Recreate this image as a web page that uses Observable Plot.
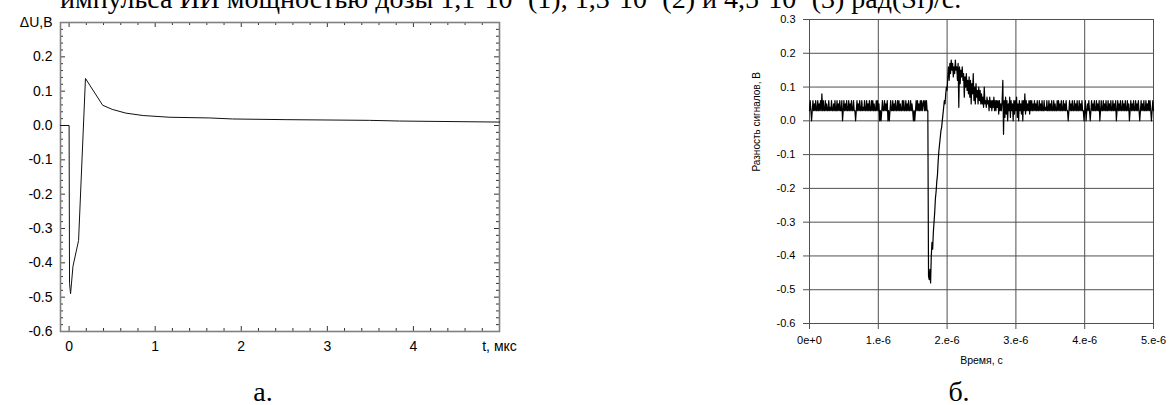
<!DOCTYPE html>
<html lang="ru">
<head>
<meta charset="utf-8">
<script src="https://cdn.jsdelivr.net/npm/d3@7"></script>
<script src="https://cdn.jsdelivr.net/npm/@observablehq/plot@0.6"></script>
<style>
  html, body { margin: 0; padding: 0; background: #fff; }
  #page { position: relative; width: 1170px; height: 405px; overflow: hidden; background: #fff; }
  .serif { position: absolute; font-family: "Liberation Serif", "Times New Roman", serif; color: #000; white-space: nowrap; }
  #lead { left: 60px; top: -15.5px; font-size: 28px; line-height: 28px; }
  #lead sup { font-size: 0.6em; line-height: 0; vertical-align: baseline; position: relative; top: -0.6em; }
  .tag { font-size: 28px; line-height: 28px; top: 378px; transform: translateX(-50%); }
  .panel { position: absolute; top: 0; }
  #panelA { left: 0; }
  #panelB { left: 735px; }
</style>
</head>
<body>
<div id="page">
  <div id="lead" class="serif">импульса ИИ мощностью дозы 1,1·10<sup>8</sup> (1), 1,3·10<sup>9</sup> (2) и 4,5·10<sup>9</sup> (3) рад(Si)/с.</div>
  <div id="panelA" class="panel"></div>
  <div id="panelB" class="panel"></div>
  <div class="serif tag" style="left:263px;">а.</div>
  <div class="serif tag" style="left:959px;">б.</div>
</div>
<script>
// ---- Panel а: computed voltage difference ΔU (V) versus time t (µs) ----
const simTime   = [-0.1, 0, 0.005, 0.017, 0.045, 0.11, 0.19, 0.39, 0.5, 0.66, 0.86, 1.17, 1.63, 1.9, 2.53, 3.49, 3.84, 5.0];
const simDeltaU = [0, 0, -0.46, -0.49, -0.41, -0.335, 0.137, 0.059, 0.047, 0.036, 0.029, 0.024, 0.022, 0.019, 0.017, 0.015, 0.013, 0.010];
const simXTicks = [0, 1, 2, 3, 4, 5];
const simXTickLabels = ["0", "1", "2", "3", "4", "t, мкс"];
const simYTicks = [-0.6, -0.5, -0.4, -0.3, -0.2, -0.1, 0, 0.1, 0.2, 0.3];
const simYTickLabels = ["-0.6", "-0.5", "-0.4", "-0.3", "-0.2", "-0.1", "0.0", "0.1", "0.2", "ΔU,В"];

// ---- Panel б: measured signal difference (V), oscilloscope record, 10 ns per sample ----
const sampleStep = 1e-8;
const baselineBefore = [ // from 0 µs
  0.03,0.06,0.03,0.00,0.03,0.06,0.03,0.05,0.03,0.06,0.03,0.03,0.06,0.03,0.05,0.03,0.06,0.03,0.08,0.03,
  0.06,0.03,0.03,0.06,0.03,0.05,0.03,0.03,0.06,0.03,0.04,0.03,0.06,0.03,0.03,0.05,0.03,0.06,0.03,0.03,
  0.06,0.03,0.05,0.03,0.06,0.03,0.03,0.06,0.00,0.03,0.06,0.03,0.05,0.03,0.06,0.03,0.03,0.06,0.03,0.05,
  0.03,0.06,0.03,0.03,0.06,0.03,0.03,0.00,0.03,0.06,0.03,0.05,0.03,0.06,0.03,0.03,0.06,0.03,0.04,0.03,
  0.06,0.03,0.03,0.06,0.03,0.05,0.03,0.06,0.03,0.03,0.06,0.03,0.06,0.03,0.05,0.03,0.03,0.06,0.03,0.06,
  0.03,0.05,0.00,0.03,0.00,0.03,0.06,0.03,0.03,0.06,0.03,0.05,0.03,0.06,0.00,0.03,0.00,0.03,0.06,0.03,
  0.03,0.06,0.03,0.05,0.03,0.06,0.03,0.03,0.06,0.03,0.06,0.03,0.05,0.03,0.03,0.06,0.03,0.06,0.03,0.03,
  0.06,0.03,0.05,0.03,0.06,0.03,0.03,0.06,0.03,0.05,0.03,0.00,0.03,0.00,0.03,0.06,0.03,0.06,0.03,0.05,
  0.03,0.06,0.03,0.06,0.03,0.05,0.06,0.03,0.06,0.03,0.06,0.03,0.03
];
const pulseDip = [ // from 1.73 µs
  -0.46,-0.47,-0.44,-0.48,-0.40,-0.36,-0.38,-0.33,-0.30,-0.27,-0.23,-0.21,-0.18,-0.16,
  -0.12,-0.09,-0.07,-0.05,-0.03,-0.02,0.00,0.02,0.04,0.06,0.05,0.08,0.10,0.09
];
const pulsePeak = [ // from 2.01 µs
  0.13,0.16,0.12,0.17,0.14,0.18,0.15,0.17,0.13,0.16,0.14,0.18,0.15,0.16,0.12,
  0.17,0.04,0.16,0.11,0.15,0.13,0.16,0.12,0.14,0.07,0.13,0.10,0.14,0.09,0.12
];
const pulseDecay = [ // from 2.31 µs
  0.08,0.13,0.07,0.12,0.05,0.11,0.08,0.14,0.06,0.10,0.05,0.11,0.07,0.09,0.05,0.10,0.06,0.09,0.05,0.08,
  0.05,0.07,0.04,0.10,0.05,0.06,0.04,0.07,0.05,0.06,0.03,0.07,0.04,0.06,0.03,0.06,0.04,0.07,0.03,0.06,
  0.03,0.06,0.04,0.06,0.02,0.06,0.03,0.05,0.03,0.06
];
const ringing = [ // from 2.81 µs
  0.12,-0.04,0.06,0.01,0.07,0.02,0.06,0.00,0.05,0.03,0.07,0.01,0.06,0.03,0.05,
  0.00,0.06,0.02,0.06,0.03,0.07,0.01,0.05,0.00,0.06,0.03,0.05,0.02,0.06,0.00,
  0.06,0.03,0.08,0.02,0.06,0.03,0.05,0.03,0.06,0.02,0.06,0.03,0.06,0.03,0.05
];
const baselineAfter = [ // from 3.26 µs
  0.03,0.06,0.03,0.05,0.03,0.06,0.03,0.03,0.06,0.03,0.05,0.03,0.06,0.03,0.03,0.06,0.03,0.04,0.03,0.06,
  0.03,0.03,0.06,0.03,0.05,0.03,0.06,0.03,0.03,0.06,0.03,0.05,0.03,0.03,0.06,0.03,0.06,0.03,0.05,0.03,
  0.06,0.03,0.03,0.06,0.03,0.05,0.03,0.06,0.03,0.03,0.00,0.03,0.06,0.03,0.05,0.03,0.06,0.03,0.03,0.06,
  0.03,0.05,0.03,0.06,0.03,0.03,0.06,0.03,0.05,0.03,0.06,0.03,0.03,0.00,0.03,0.06,0.00,0.03,0.05,0.03,
  0.06,0.03,0.00,0.03,0.06,0.03,0.05,0.03,0.06,0.03,0.03,0.06,0.03,0.05,0.03,0.06,0.00,0.03,0.06,0.03,
  0.03,0.06,0.03,0.05,0.03,0.06,0.03,0.03,0.06,0.03,0.05,0.03,0.06,0.03,0.03,0.06,0.03,0.05,0.03,0.06,
  0.00,0.03,0.06,0.03,0.05,0.03,0.06,0.03,0.03,0.06,0.03,0.05,0.03,0.06,0.03,0.03,0.06,0.03,0.05,0.00,
  0.03,0.06,0.03,0.05,0.03,0.06,0.03,0.03,0.06,0.03,0.05,0.03,0.06,0.03,0.00,0.03,0.06,0.03,0.05,0.03,
  0.06,0.03,0.03,0.06,0.03,0.05,0.03,0.06,0.03,0.06,0.03,0.00,0.03,0.06,0.03
];
const segmentStarts = [0, 1.73e-6, 2.01e-6, 2.31e-6, 2.81e-6, 3.26e-6];
const segments = [baselineBefore, pulseDip, pulsePeak, pulseDecay, ringing, baselineAfter];
const scopeXTicks = [0, 1e-6, 2e-6, 3e-6, 4e-6, 5e-6];
const scopeXTickLabels = ["0e+0", "1.e-6", "2.e-6", "3.e-6", "4.e-6", "5.e-6"];
const scopeYTicks = [-0.6, -0.5, -0.4, -0.3, -0.2, -0.1, 0, 0.1, 0.2, 0.3];
const scopeYTickLabels = ["-0.6", "-0.5", "-0.4", "-0.3", "-0.2", "-0.1", "0.0", "0.1", "0.2", "0.3"];

// ---------- panel а ----------
const A = {width: 560, height: 370, top: 22, right: 61, bottom: 39, left: 60};
const aInnerW = A.width - A.left - A.right;
const aInnerH = A.height - A.top - A.bottom;
const simRows = simTime.map((t, i) => ({t, u: simDeltaU[i]}));
const xMinorA = d3.range(1, 25).filter(k => k % 5 !== 0).map(k => k / 5);
const xMajorA = simXTicks.slice(0, 5);
const yMinorA = d3.range(-29, 15).filter(k => k % 5 !== 0).map(k => k / 50);
const yMajorA = simYTicks.slice(1, -1);
const tickInk = "#333";

const plotA = Plot.plot({
  width: A.width, height: A.height,
  marginTop: A.top, marginRight: A.right, marginBottom: A.bottom, marginLeft: A.left,
  x: {domain: [-0.1, 5]},
  y: {domain: [-0.6, 0.3]},
  style: {fontFamily: "'Liberation Sans', Arial, sans-serif", fontSize: "14px", color: "#000", background: "transparent"},
  marks: [
    // inward ticks on all four sides
    Plot.tickX(xMinorA, {x: d => d, insetTop: aInnerH - 3, stroke: tickInk}),
    Plot.tickX(xMinorA, {x: d => d, insetBottom: aInnerH - 3, stroke: tickInk}),
    Plot.tickX(xMajorA, {x: d => d, insetTop: aInnerH - 5, stroke: tickInk}),
    Plot.tickX(xMajorA, {x: d => d, insetBottom: aInnerH - 5, stroke: tickInk}),
    Plot.tickY(yMinorA, {y: d => d, insetRight: aInnerW - 3, stroke: tickInk}),
    Plot.tickY(yMinorA, {y: d => d, insetLeft: aInnerW - 3, stroke: tickInk}),
    Plot.tickY(yMajorA, {y: d => d, insetRight: aInnerW - 5, stroke: tickInk}),
    Plot.tickY(yMajorA, {y: d => d, insetLeft: aInnerW - 5, stroke: tickInk}),
    Plot.frame({stroke: "#808080", strokeWidth: 1.6}),
    Plot.axisX(simXTicks, {tickSize: 0, tickPadding: 10, label: null,
      tickFormat: d => simXTickLabels[simXTicks.indexOf(d)]}),
    Plot.axisY(simYTicks, {tickSize: 0, tickPadding: 8, label: null,
      tickFormat: d => simYTickLabels[simYTicks.indexOf(d)]}),
    Plot.line(simRows, {x: "t", y: "u", stroke: "#111", strokeWidth: 1})
  ]
});
document.getElementById("panelA").append(plotA);

// ---------- panel б ----------
const B = {width: 435, height: 370, top: 19, right: 17, bottom: 47, left: 74};
const scopeRows = segments.flatMap((vals, s) =>
  vals.map((v, i) => ({time: segmentStarts[s] + i * sampleStep, dv: v})));
const gridInk = "#505050";

const plotB = Plot.plot({
  width: B.width, height: B.height,
  marginTop: B.top, marginRight: B.right, marginBottom: B.bottom, marginLeft: B.left,
  x: {domain: [0, 5e-6]},
  y: {domain: [-0.6, 0.3]},
  style: {fontFamily: "'Liberation Sans', Arial, sans-serif", fontSize: "11px", color: "#000", background: "transparent"},
  marks: [
    Plot.ruleX(scopeXTicks, {x: d => d, stroke: gridInk}),
    Plot.ruleY(scopeYTicks, {y: d => d, stroke: gridInk}),
    Plot.axisX(scopeXTicks, {tickSize: 6, tickPadding: 7, label: null, stroke: gridInk,
      tickFormat: d => scopeXTickLabels[scopeXTicks.indexOf(d)]}),
    Plot.axisY(scopeYTicks, {tickSize: 6, tickPadding: 8, label: null, stroke: gridInk,
      tickFormat: d => scopeYTickLabels[scopeYTicks.indexOf(d)]}),
    Plot.line(scopeRows, {x: "time", y: "dv", stroke: "#000", strokeWidth: 1.2}),
    Plot.text(["Разность сигналов, В"], {frameAnchor: "left", rotate: -90, dx: -53, fontSize: 10}),
    Plot.text(["Время, с"], {frameAnchor: "bottom", dy: 40, fontSize: 10.5})
  ]
});
document.getElementById("panelB").append(plotB);
</script>
</body>
</html>
